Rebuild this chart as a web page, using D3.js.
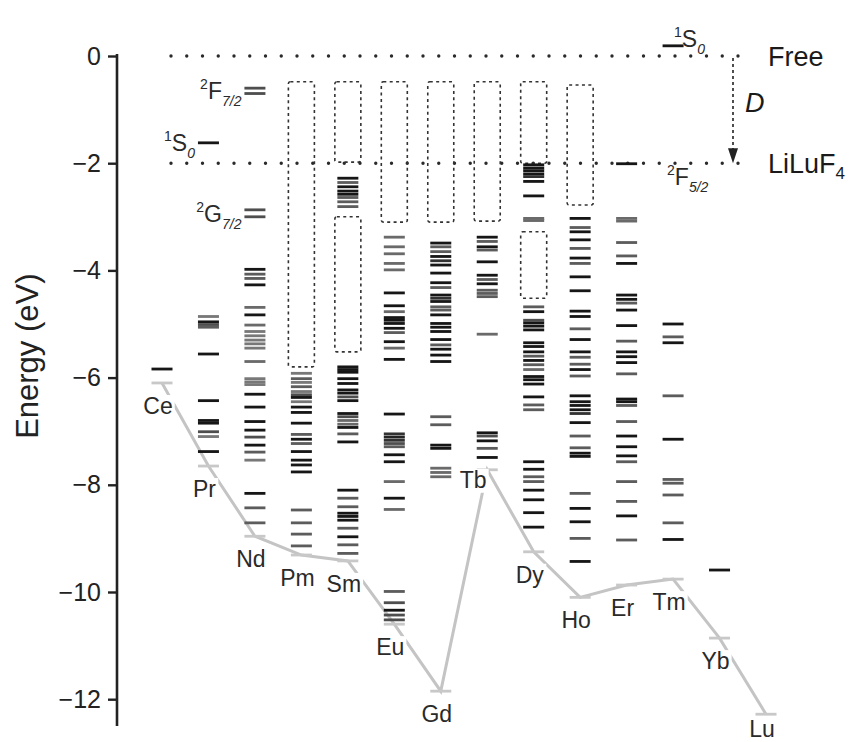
<!DOCTYPE html>
<html>
<head>
<meta charset="utf-8">
<script src="https://cdn.jsdelivr.net/npm/d3@7"></script>
<style>
  body { margin: 0; background: #fff; }
  svg { display: block; font-family: "Liberation Sans", Arial, Helvetica, sans-serif; }
</style>
</head>
<body>
<svg id="chart" width="851" height="742"></svg>
<script>
// ---- Data -------------------------------------------------------------
const ions = ["Ce","Pr","Nd","Pm","Sm","Eu","Gd","Tb","Dy","Ho","Er","Tm","Yb","Lu"];
// 4f ground-state energy of each trivalent ion (eV)
const groundState = [-6.10, -7.65, -8.96, -9.31, -9.42, -10.60, -11.85, -7.72, -9.25, -10.10, -9.87, -9.76, -10.86, -12.28];

// excited levels per ion: [energy (eV), line strength 0 = weak .. 1 = strong]
const levelsCe = [[-5.84,1]];
const levelsPr = [[-1.62,1],[-4.86,0.3],[-4.96,1],[-5.01,0.6],[-5.06,0.5],[-5.56,1],[-6.43,1],[-6.80,1],[-6.85,1],[-7.01,0.6],[-7.10,0.3],[-7.38,1]];
const levelsNd = [[-0.60,0.6],[-0.70,0.6],[-2.87,0.6],[-3.00,0.6],[-3.98,1],[-4.07,0.5],[-4.15,0.5],[-4.27,1],[-4.69,0.4],[-4.83,1],
  [-5.02,0.4],[-5.14,0.3],[-5.22,0.3],[-5.30,0.3],[-5.37,0.3],[-5.45,0.3],[-5.70,0.4],[-6.02,0.3],[-6.08,0.3],[-6.13,0.3],
  [-6.31,1],[-6.55,1],[-6.82,1],[-6.98,1],[-7.11,0.6],[-7.26,1],[-7.39,0.5],[-7.54,0.3],[-8.16,1],[-8.43,0.5],[-8.71,0.5]];
const levelsPm = [[-5.92,0.3],[-6.02,0.5],[-6.09,0.3],[-6.17,0.5],[-6.26,0.3],[-6.32,0.6],[-6.37,1],[-6.45,0.3],[-6.55,1],[-6.65,1],
  [-6.85,1],[-7.06,0.5],[-7.15,1],[-7.23,0.5],[-7.38,1],[-7.54,1],[-7.63,1],[-7.76,1],[-8.47,0.5],[-8.71,0.5],[-8.92,0.5],[-9.14,0.5]];
const levelsSm = [[-2.28,1],[-2.36,0.5],[-2.44,1],[-2.52,1],[-2.58,1],[-2.64,0.5],[-2.72,0.5],[-2.81,0.5],
  [-5.80,1],[-5.85,1],[-5.90,1],[-6.02,1],[-6.11,1],[-6.23,1],[-6.29,1],[-6.36,0.6],[-6.43,1],[-6.67,1],[-6.73,0.6],
  [-6.80,0.4],[-6.87,0.4],[-6.93,1],[-7.05,0.5],[-7.20,1],
  [-8.10,1],[-8.25,0.5],[-8.41,0.5],[-8.53,1],[-8.59,1],[-8.66,1],[-8.81,0.5],[-8.97,1],[-9.12,0.5],[-9.28,0.5]];
const levelsEu = [[-3.38,0.4],[-3.56,0.4],[-3.69,0.4],[-3.87,0.4],[-3.99,0.4],[-4.42,1],[-4.66,1],[-4.77,0.4],[-4.88,1],[-4.93,1],
  [-4.99,1],[-5.08,1],[-5.16,0.5],[-5.33,1],[-5.45,0.4],[-5.66,1],[-6.68,1],[-7.05,0.8],[-7.11,0.9],[-7.17,0.8],[-7.23,0.6],
  [-7.29,0.5],[-7.44,1],[-7.57,1],[-7.94,0.4],[-8.25,1],[-8.46,0.4],[-9.99,0.5],[-10.20,0.6],[-10.34,1],[-10.43,0.6],[-10.52,0.6]];
const levelsGd = [[-3.49,1],[-3.56,0.5],[-3.65,0.5],[-3.74,1],[-3.82,0.8],[-3.90,1],[-4.05,1],[-4.23,1],[-4.32,0.5],[-4.46,1],
  [-4.52,0.8],[-4.58,1],[-4.68,0.5],[-4.74,0.5],[-4.83,1],[-4.99,1],[-5.06,1],[-5.14,1],[-5.29,1],[-5.39,0.5],[-5.47,1],
  [-5.58,1],[-5.70,1],[-6.73,0.5],[-6.88,0.5],[-7.26,1],[-7.32,1],[-7.69,0.4],[-7.77,0.4],[-7.85,0.4]];
const levelsTb = [[-3.38,1],[-3.46,0.5],[-3.56,1],[-3.62,0.5],[-3.84,1],[-4.09,1],[-4.17,0.5],[-4.25,1],[-4.37,0.5],[-4.43,0.5],
  [-4.49,0.5],[-5.19,0.4],[-7.03,1],[-7.09,0.6],[-7.18,1],[-7.32,0.5],[-7.49,1]];
const levelsDy = [[-2.03,1],[-2.09,1],[-2.14,1],[-2.20,1],[-2.25,0.8],[-2.34,1],[-2.61,1],[-3.03,0.4],[-3.07,0.4],[-4.68,0.5],
  [-4.77,1],[-4.93,0.6],[-4.98,1],[-5.04,1],[-5.11,1],[-5.35,1],[-5.42,1],[-5.52,1],[-5.60,0.5],[-5.68,1],[-5.76,0.5],
  [-5.85,0.4],[-5.98,1],[-6.04,1],[-6.12,1],[-6.36,1],[-6.51,0.5],[-6.60,0.5],[-7.57,1],[-7.71,1],[-7.85,0.5],[-7.94,0.5],
  [-8.10,1],[-8.28,1],[-8.52,1],[-8.79,1]];
const levelsHo = [[-3.03,1],[-3.20,0.5],[-3.28,1],[-3.43,1],[-3.59,0.5],[-3.77,1],[-3.87,0.5],[-4.12,1],[-4.38,1],[-4.76,1],
  [-4.86,1],[-5.09,0.5],[-5.29,1],[-5.52,1],[-5.62,0.5],[-5.75,0.5],[-5.85,1],[-5.97,0.5],[-6.34,1],[-6.45,1],[-6.52,1],
  [-6.60,1],[-6.67,0.8],[-6.84,1],[-7.09,0.5],[-7.31,0.5],[-7.41,1],[-7.47,1],[-8.16,0.5],[-8.44,1],[-8.69,1],[-9.00,0.5],[-9.43,1]];
const levelsEr = [[-2.01,1],[-3.03,0.4],[-3.08,0.4],[-3.48,0.5],[-3.73,0.5],[-3.87,1],[-4.46,1],[-4.54,1],[-4.61,0.5],[-4.74,1],
  [-5.03,1],[-5.32,0.5],[-5.52,1],[-5.61,1],[-5.72,1],[-5.93,0.5],[-6.40,1],[-6.45,1],[-6.52,0.5],[-6.82,0.5],[-7.09,1],
  [-7.29,1],[-7.46,1],[-7.57,0.5],[-7.94,0.5],[-8.31,0.5],[-8.58,1],[-9.03,0.5]];
const levelsTm = [[0.19,1],[-5.00,1],[-5.24,0.5],[-5.35,1],[-6.34,0.5],[-7.15,1],[-7.90,0.5],[-7.97,0.5],[-8.19,0.5],[-8.71,0.5],[-9.02,1]];
const levelsYb = [[-9.59,1]];
const levelsLu = [];

// dense regions drawn as dashed outlines
const bandIon    = ["Pm","Sm","Sm","Eu","Gd","Tb","Dy","Dy","Ho"];
const bandTop    = [-0.48,-0.48,-3.00,-0.48,-0.48,-0.48,-0.48,-3.28,-0.54];
const bandBottom = [-5.80,-1.98,-5.52,-3.10,-3.10,-3.08,-2.00,-4.52,-2.78];

// reference energies: free ion and in the LiLuF4 host
const refEnergy = [0, -2.0];
const refName   = ["Free", "LiLuF"];
const refSub    = ["", "4"];

// term labels: ion column, energy, multiplicity, L, J
const termIon  = ["Nd","Pr","Nd","Tm","Tm"];
const termE    = [-0.65,-1.62,-2.94,0.19,-2.0];
const termMult = ["2","1","2","1","2"];
const termL    = ["F","S","G","S","F"];
const termJ    = ["7/2","0","7/2","0","5/2"];
const termSide = ["left","left","left","above","below"];

const energyTicks = [0,-2,-4,-6,-8,-10,-12];

// ---- Chart ------------------------------------------------------------
const levels = {Ce:levelsCe, Pr:levelsPr, Nd:levelsNd, Pm:levelsPm, Sm:levelsSm, Eu:levelsEu, Gd:levelsGd,
  Tb:levelsTb, Dy:levelsDy, Ho:levelsHo, Er:levelsEr, Tm:levelsTm, Yb:levelsYb, Lu:levelsLu};

const svg = d3.select("#chart");
const y = d3.scaleLinear().domain([0, -12.5]).range([56, 726]);
const x = d3.scalePoint().domain(ions).range([162, 766]);
const barW = 21, boxW = 26;
const tone = d3.scaleLinear().domain([0, 1]).range(["#a2a2a2", "#161616"]);

// y axis
const axis = d3.axisLeft(y).tickValues(energyTicks).tickSizeInner(9).tickSizeOuter(0).tickPadding(7)
  .tickFormat(d => d === 0 ? "0" : "\u2212" + Math.abs(d));
const gAxis = svg.append("g").attr("transform", "translate(117,0)").call(axis);
gAxis.select(".domain").attr("stroke", "#222").attr("stroke-width", 2.6)
  .attr("d", `M0,${y(0) - 2}V${y(-12.5)}`);
gAxis.selectAll(".tick line").attr("stroke", "#222").attr("stroke-width", 2.4);
gAxis.selectAll(".tick text").attr("fill", "#222").attr("font-size", 25)
  .attr("font-family", "'Liberation Sans', Arial, sans-serif");

svg.append("text")
  .attr("transform", `translate(38,${y(-5.6)}) rotate(-90)`)
  .attr("text-anchor", "middle").attr("font-size", 31).attr("fill", "#222")
  .text("Energy (eV)");

// dotted reference lines
const refG = svg.append("g");
refEnergy.forEach((e, i) => {
  refG.append("line")
    .attr("x1", 171).attr("x2", 752).attr("y1", y(e)).attr("y2", y(e))
    .attr("stroke", "#2a2a2a").attr("stroke-width", 3.4)
    .attr("stroke-linecap", "round").attr("stroke-dasharray", "0 15.75");
  const t = refG.append("text").attr("x", 768).attr("y", y(e) + 10)
    .attr("font-size", 27).attr("fill", "#1a1a1a").text(refName[i]);
  if (refSub[i]) t.append("tspan").attr("font-size", 17).attr("dy", 6).text(refSub[i]);
});

// D arrow between the two reference energies
const ax = 733;
refG.append("line").attr("x1", ax).attr("x2", ax).attr("y1", y(0) + 2).attr("y2", y(-2.0) - 12)
  .attr("stroke", "#222").attr("stroke-width", 1.6).attr("stroke-dasharray", "3 3");
refG.append("path")
  .attr("d", `M${ax - 5},${y(-2.0) - 15}L${ax + 5},${y(-2.0) - 15}L${ax},${y(-2.0)}Z`)
  .attr("fill", "#222");
refG.append("text").attr("x", 745).attr("y", y(-1.04))
  .attr("font-size", 27).attr("font-style", "italic").attr("fill", "#1a1a1a").text("D");

// dashed outlines of dense level regions
svg.append("g").selectAll("rect").data(bandIon).join("rect")
  .attr("x", d => x(d) - boxW / 2)
  .attr("y", (d, i) => y(bandTop[i]))
  .attr("width", boxW)
  .attr("height", (d, i) => y(bandBottom[i]) - y(bandTop[i]))
  .attr("rx", 2)
  .attr("fill", "none").attr("stroke", "#333").attr("stroke-width", 1.6)
  .attr("stroke-dasharray", "3 3.4");

// line joining the ground states
const groundPts = ions.map((ion, i) => [x(ion), y(groundState[i])]);
svg.append("path").attr("d", d3.line()(groundPts))
  .attr("fill", "none").attr("stroke", "#c4c4c4").attr("stroke-width", 3);

// ground-state bars
svg.append("g").selectAll("rect").data(ions).join("rect")
  .attr("x", d => x(d) - barW / 2)
  .attr("y", (d, i) => y(groundState[i]) - 1.4)
  .attr("width", barW).attr("height", 2.8)
  .attr("fill", "#c8c8c8");

// excited levels
const levelG = svg.append("g");
ions.forEach(ion => {
  levelG.append("g").selectAll("rect").data(levels[ion]).join("rect")
    .attr("x", x(ion) - barW / 2)
    .attr("y", d => y(d[0]) - 1.4)
    .attr("width", barW).attr("height", 2.8)
    .attr("fill", d => tone(d[1]));
});

// ion names under their ground states, on white patches
const labelG = svg.append("g");
ions.forEach((ion, i) => {
  const isTb = ion === "Tb";
  const tx = x(ion) + (isTb ? -14 : -4);
  const ty = Math.min(737, y(groundState[i]) + (isTb ? 18 : 31));
  const t = labelG.append("text").attr("x", tx).attr("y", ty)
    .attr("text-anchor", "middle").attr("font-size", 23).attr("fill", "#2a2a2a").text(ion);
  const bb = t.node().getBBox();
  labelG.insert("rect", () => t.node())
    .attr("x", bb.x - 2).attr("y", bb.y + 2).attr("width", bb.width + 4).attr("height", bb.height - 2)
    .attr("fill", "#fff");
});

// spectroscopic term labels
const termG = svg.append("g").attr("fill", "#2a2a2a");
termIon.forEach((ion, i) => {
  const ly = y(termE[i]);
  let tx, ty, anchor = "start";
  if (termSide[i] === "left") { tx = x(ion) - barW / 2 - 3; ty = ly + 8; anchor = "end"; }
  else if (termSide[i] === "above") { tx = x(ion) + 1; ty = ly + 1; }
  else { tx = x(ion) - 6; ty = ly + 22; }
  const t = termG.append("text").attr("x", tx).attr("y", ty).attr("text-anchor", anchor).attr("font-size", 23);
  t.append("tspan").attr("font-size", 14).attr("dy", -10).text(termMult[i]);
  t.append("tspan").attr("dy", 10).text(termL[i]);
  t.append("tspan").attr("font-size", 14).attr("font-style", "italic").attr("dy", 7).text(termJ[i]);
});
</script>
</body>
</html>
